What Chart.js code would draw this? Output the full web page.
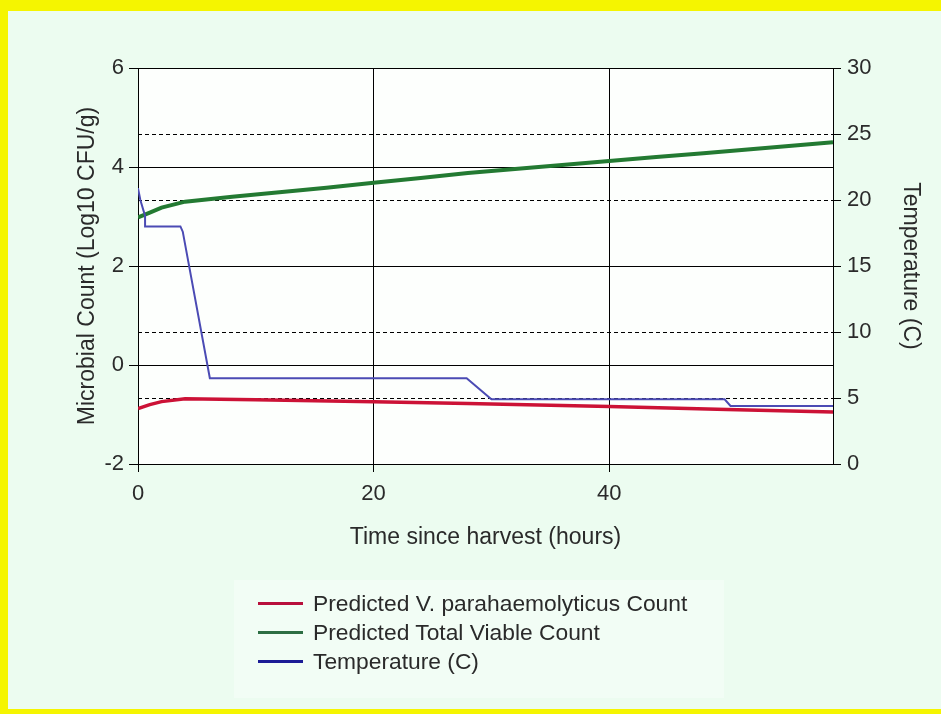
<!DOCTYPE html>
<html>
<head>
<meta charset="utf-8">
<script src="https://cdn.jsdelivr.net/npm/chart.js@4/dist/chart.umd.min.js"></script>
<style>
  html, body { margin: 0; padding: 0; }
  body { width: 941px; height: 714px; background: #f5f500; position: relative; overflow: hidden; font-family: "Liberation Sans", Arial, sans-serif; }
  #panel { position: absolute; left: 8px; top: 11px; right: 0; bottom: 5px; background: #ecfcf0; }
  #legendBox { position: absolute; left: 234px; top: 580px; width: 490px; height: 118px; background: #f2fdf5; }
  #wrap { position: absolute; left: 0; top: 0; width: 941px; height: 714px; }
  .leg { position: absolute; left: 258px; height: 26px; display: flex; align-items: center; font-size: 22.8px; color: #2a2a2a; white-space: nowrap; }
  .leg span.sw { display: inline-block; width: 45px; height: 3px; margin-right: 10px; }
</style>
</head>
<body>
<div id="panel"></div>
<div id="legendBox"></div>
<div id="wrap"><canvas id="c" width="941" height="714"></canvas></div>
<div id="legend"></div>
<script>
// ---- data ----
const timeVp = [0, 1, 2, 4, 10, 20, 28, 40, 50, 59];
const vpCount = [-0.88, -0.8, -0.74, -0.68, -0.70, -0.74, -0.78, -0.84, -0.90, -0.95];

const timeTvc = [0, 1, 2, 4, 8, 12, 16, 20, 24, 28, 32, 36, 40, 44, 48, 52, 56, 59];
const tvcCount = [2.98, 3.08, 3.18, 3.3, 3.4, 3.49, 3.58, 3.68, 3.78, 3.88, 3.96, 4.04, 4.12, 4.2, 4.28, 4.36, 4.44, 4.5];

const timeTemp = [0, 0.2, 0.6, 0.6, 3.6, 3.8, 6.1, 27.9, 30.0, 49.8, 50.3, 59];
const temperature = [20.9, 20.0, 18.8, 18.0, 18.0, 17.6, 6.5, 6.5, 4.9, 4.9, 4.4, 4.4];

const seriesNames = ["Predicted V. parahaemolyticus Count", "Predicted Total Viable Count", "Temperature (C)"];
const xTitle = "Time since harvest (hours)";
const yTitle = "Microbial Count (Log10 CFU/g)";
const y2Title = "Temperature (C)";

const lineColors = ["#cc1236", "#237a32", "#4b4bb4"];
const legendColors = ["#b8103c", "#2d6e43", "#1c1c96"];

const pairs = (xs, ys) => xs.map((x, i) => ({ x: x, y: ys[i] }));

const FAMILY = '"Liberation Sans", Arial, sans-serif';
const TICKFONT = { family: FAMILY, size: 22 };
const TITLEFONT = { family: FAMILY, size: 23 };
const TXT = "#2a2a2a";

const plotBg = {
  id: 'plotBg',
  beforeDraw(chart) {
    const { ctx, chartArea: a } = chart;
    ctx.save();
    ctx.fillStyle = '#fdfffd';
    ctx.fillRect(a.left, a.top, a.right - a.left, a.bottom - a.top);
    ctx.restore();
  }
};

new Chart(document.getElementById('c'), {
  type: 'line',
  plugins: [plotBg],
  data: {
    datasets: [
      { label: seriesNames[0], data: pairs(timeVp, vpCount), yAxisID: 'y', borderColor: lineColors[0], borderWidth: 3.5, pointRadius: 0, tension: 0, order: 2 },
      { label: seriesNames[1], data: pairs(timeTvc, tvcCount), yAxisID: 'y', borderColor: lineColors[1], borderWidth: 4, pointRadius: 0, tension: 0, order: 3 },
      { label: seriesNames[2], data: pairs(timeTemp, temperature), yAxisID: 'y2', borderColor: lineColors[2], borderWidth: 2, pointRadius: 0, tension: 0, order: 1 }
    ]
  },
  options: {
    responsive: false,
    animation: false,
    layout: { padding: { left: 0, right: 0, top: 68, bottom: 150 } },
    plugins: { legend: { display: false }, tooltip: { enabled: false } },
    scales: {
      x: {
        type: 'linear', min: 0, max: 59,
        ticks: { stepSize: 20, includeBounds: false, color: TXT, font: TICKFONT, padding: 9, maxRotation: 0 },
        grid: { color: '#000', lineWidth: 1, tickLength: 8, drawOnChartArea: true },
        border: { color: '#000', width: 1 },
        title: { display: true, text: xTitle, color: TXT, font: TITLEFONT, padding: { bottom: 13, top: 0 } },
        afterFit(s) { s.height = 100; }
      },
      y: {
        position: 'left', min: -2, max: 6,
        ticks: { stepSize: 2, color: TXT, font: TICKFONT, padding: 5 },
        grid: { color: '#000', lineWidth: 1, tickLength: 9 },
        border: { color: '#000', width: 1 },
        title: { display: true, text: yTitle, color: TXT, font: TITLEFONT, padding: { top: 74, bottom: 0 } },
        afterFit(s) { s.width = 138; }
      },
      y2: {
        position: 'right', min: 0, max: 30,
        ticks: { stepSize: 5, color: TXT, font: TICKFONT, padding: 6 },
        grid: { color: '#000', lineWidth: 1, tickLength: 8, drawOnChartArea: true },
        border: { color: '#000', width: 1, dash: [4, 3] },
        title: { display: true, text: y2Title, color: TXT, font: TITLEFONT, padding: { top: 17, bottom: 0 } },
        afterFit(s) { s.width = 108; }
      }
    }
  }
});

// HTML legend built from the series names
const legend = document.getElementById('legend');
const rowsTop = [590, 619, 648];
seriesNames.forEach((name, i) => {
  const d = document.createElement('div');
  d.className = 'leg';
  d.style.top = rowsTop[i] + 'px';
  const sw = document.createElement('span');
  sw.className = 'sw';
  sw.style.background = legendColors[i];
  d.appendChild(sw);
  d.appendChild(document.createTextNode(name));
  legend.appendChild(d);
});
</script>
</body>
</html>
